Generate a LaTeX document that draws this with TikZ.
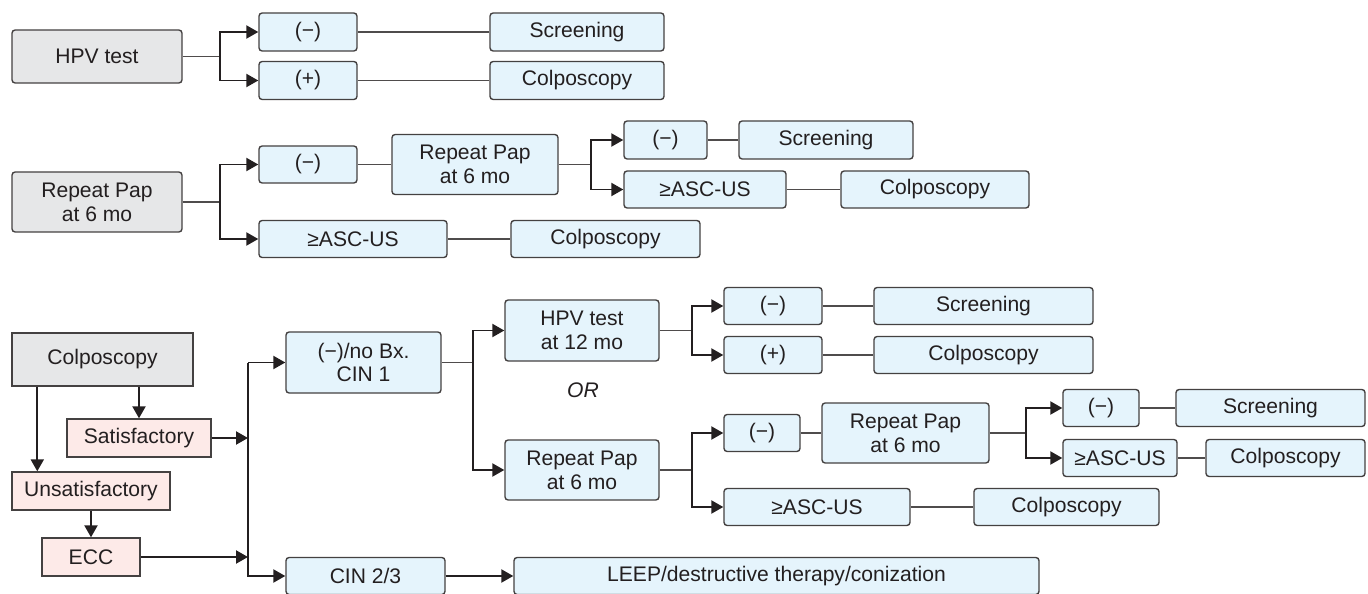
\documentclass[tikz,border=0pt]{standalone}
\usepackage{fontspec}
\setmainfont{Liberation Sans}
\usetikzlibrary{arrows.meta}
\definecolor{boxgray}{HTML}{E6E7E8}
\definecolor{boxblue}{HTML}{E5F4FC}
\definecolor{boxpink}{HTML}{FDEAE8}
\definecolor{ink}{HTML}{231F20}
\begin{document}
\begin{tikzpicture}[x=0.02cm, y=-0.02cm,
  every node/.style={align=center, font=\fontsize{12}{13.6}\selectfont, text=ink, inner sep=0pt},
  start/.style={draw=ink!85, line width=0.8pt, rounded corners=1.8pt, fill=boxgray},
  res/.style={draw=ink!85, line width=0.8pt, rounded corners=1.8pt, fill=boxblue},
  cond/.style={draw=ink!85, line width=0.8pt, fill=boxpink},
  sz/.style 2 args={minimum width=#1*0.02cm, minimum height=#2*0.02cm},
  link/.style={ink!80, line width=0.7pt},
  arr/.style={ink, line width=1.1pt, -{Triangle[length=6.8pt, width=7.4pt]}}]
  \useasboundingbox (0,0) rectangle (1368,594);

  % HPV test branch
  \node[start, sz={170}{53}] (hpv) at (97,56.5) {HPV test};
  \node[res, sz={98}{38}] (neg1) at (308,32) {(−)};
  \node[res, sz={98}{38}] (pos1) at (308,80.5) {(+)};
  \node[res, sz={174}{38}] (scr1) at (577,32) {Screening};
  \node[res, sz={174}{38}] (col1) at (577,80.5) {Colposcopy};
  \coordinate (j1) at (220,56.5);
  \draw[link] (hpv) -- (j1);
  \draw[arr] (j1) |- (neg1);
  \draw[arr] (j1) |- (pos1);
  \draw[link] (neg1) -- (scr1);
  \draw[link] (pos1) -- (col1);

  % Repeat Pap branch
  \node[start, sz={170}{60}] (rp1) at (97,202) {Repeat Pap\\at 6 mo};
  \node[res, sz={98}{37}] (neg2) at (308,164.5) {(−)};
  \node[res, sz={166}{60}] (rp2) at (475,164.5) {Repeat Pap\\at 6 mo};
  \node[res, sz={188}{37}] (asc2) at (353,239) {≥ASC-US};
  \node[res, sz={189}{37}] (col2) at (605.5,239) {Colposcopy};
  \node[res, sz={83}{38}] (neg2r) at (665.5,140) {(−)};
  \node[res, sz={174}{38}] (scr2) at (826,140) {Screening};
  \node[res, sz={162}{37}] (asc2r) at (705,189.5) {≥ASC-US};
  \node[res, sz={188}{37}] (col2r) at (935,189.5) {Colposcopy};
  \coordinate (j2) at (220,202);
  \coordinate (j2r) at (591,164.5);
  \draw[link] (rp1) -- (j2);
  \draw[arr] (j2) |- (neg2);
  \draw[arr] (j2) |- (asc2);
  \draw[link] (neg2) -- (rp2);
  \draw[link] (asc2) -- (col2);
  \draw[link] (rp2) -- (j2r);
  \draw[arr] (j2r) |- (neg2r);
  \draw[arr] (j2r) |- (asc2r);
  \draw[link] (neg2r) -- (scr2);
  \draw[link] (asc2r) -- (col2r);

  % Colposcopy branch
  \node[start, rounded corners=0pt, sz={181}{53}] (colpo) at (102.5,359.5) {Colposcopy};
  \node[cond, sz={144}{38}] (sat) at (139,438) {Satisfactory};
  \node[cond, sz={158}{38}] (unsat) at (91,491) {Unsatisfactory};
  \node[cond, sz={98}{38}] (ecc) at (91,557) {ECC};
  \draw[arr] (colpo.south -| sat.north) -- (sat.north);
  \draw[arr] ([xshift=0.52cm]colpo.south west) -- ([xshift=0.52cm]colpo.south west |- unsat.north);
  \draw[arr] (unsat) -- (ecc);
  \coordinate (jtop) at (248,362.5);
  \coordinate (jbot) at (248,576);
  \draw[arr] (sat.east) -- (sat.east -| jtop);
  \draw[arr] (ecc.east) -- (ecc.east -| jtop);

  % results of colposcopy
  \node[res, sz={155}{61}] (cin1) at (363.5,362.5) {(−)/no Bx.\\CIN 1};
  \node[res, sz={159}{37}] (cin23) at (365.5,576) {CIN 2/3};
  \node[res, sz={525}{37}] (leep) at (776.5,576) {LEEP/destructive therapy/conization};
  \draw[arr] (jtop) -- (cin1);
  \draw[arr] (jtop) -- (jbot) -- (cin23);
  \draw[arr] (cin23) -- (leep);

  % follow-up of CIN 1
  \node[res, sz={154}{61}] (hpv12) at (582,330.5) {HPV test\\at 12 mo};
  \node[font=\fontsize{12}{13.6}\selectfont\itshape] (or) at (583,390) {OR};
  \node[res, sz={154}{60}] (rp3) at (582,470) {Repeat Pap\\at 6 mo};
  \coordinate (j3) at (473,362.5);
  \draw[link] (cin1) -- (j3);
  \draw[arr] (j3) |- (hpv12);
  \draw[arr] (j3) |- (rp3);

  \node[res, sz={98}{37}] (neg3) at (773,306) {(−)};
  \node[res, sz={98}{37}] (pos3) at (773,355) {(+)};
  \node[res, sz={219}{37}] (scr3) at (983.5,306) {Screening};
  \node[res, sz={219}{37}] (col3) at (983.5,355) {Colposcopy};
  \coordinate (j4) at (692,330.5);
  \draw[link] (hpv12) -- (j4);
  \draw[arr] (j4) |- (neg3);
  \draw[arr] (j4) |- (pos3);
  \draw[link] (neg3) -- (scr3);
  \draw[link] (pos3) -- (col3);

  \node[res, sz={76}{37}] (neg4) at (762,433) {(−)};
  \node[res, sz={167}{60}] (rp4) at (905.5,433) {Repeat Pap\\at 6 mo};
  \node[res, sz={186}{37}] (asc4) at (817,507) {≥ASC-US};
  \node[res, sz={185}{37}] (col4) at (1066.5,507) {Colposcopy};
  \coordinate (j5) at (692,470);
  \draw[link] (rp3) -- (j5);
  \draw[arr] (j5) |- (neg4);
  \draw[arr] (j5) |- (asc4);
  \draw[link] (neg4) -- (rp4);
  \draw[link] (asc4) -- (col4);

  \node[res, sz={76}{37}] (neg5) at (1101,408) {(−)};
  \node[res, sz={189}{37}] (scr5) at (1270.5,408) {Screening};
  \node[res, sz={114}{37}] (asc5) at (1120,458) {≥ASC-US};
  \node[res, sz={159}{37}] (col5) at (1285.5,458) {Colposcopy};
  \coordinate (j6) at (1026,433);
  \draw[link] (rp4) -- (j6);
  \draw[arr] (j6) |- (neg5);
  \draw[arr] (j6) |- (asc5);
  \draw[link] (neg5) -- (scr5);
  \draw[link] (asc5) -- (col5);
\end{tikzpicture}
\end{document}
